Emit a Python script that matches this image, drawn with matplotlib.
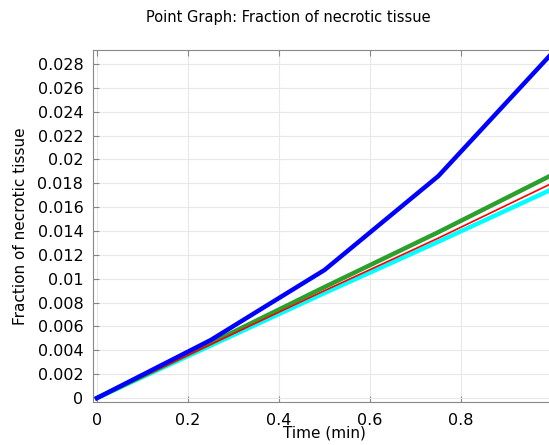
import matplotlib.pyplot as plt

# time in minutes and necrotic fraction for each curve
time = [0.0, 0.25, 0.5, 0.75, 1.0]
frac_blue = [0.0, 0.00486, 0.01073, 0.0186, 0.0289]
frac_green = [0.0, 0.0046, 0.0093, 0.0139, 0.0187]
frac_red = [0.0, 0.0045, 0.0090, 0.0134, 0.0180]
frac_cyan = [0.0, 0.0044, 0.0088, 0.0131, 0.0175]

yticks = [i * 0.002 for i in range(15)]
ylabels = ['0', '0.002', '0.004', '0.006', '0.008', '0.01', '0.012', '0.014',
           '0.016', '0.018', '0.02', '0.022', '0.024', '0.026', '0.028']
xticks = [0, 0.2, 0.4, 0.6, 0.8, 1.0]
xlabels = ['0', '0.2', '0.4', '0.6', '0.8', '1']

fig = plt.figure(figsize=(5.49, 4.45), dpi=100)
ax = fig.add_axes([0.1694, 0.0966, 0.8434, 0.791])

ax.plot(time, frac_cyan, color='#00ffff', lw=3.2, zorder=3)
ax.plot(time, frac_green, color='#2ca02c', lw=3.2, zorder=4)
ax.plot(time, frac_red, color='#ff0000', lw=1.2, zorder=5)
ax.plot(time, frac_blue, color='#0000ff', lw=3.2, zorder=6)

ax.set_xlim(-0.0088, 1.0088)
ax.set_ylim(-0.000335, 0.02917)
ax.set_xticks(xticks)
ax.set_xticklabels(xlabels)
ax.set_yticks(yticks)
ax.set_yticklabels(ylabels)
ax.tick_params(direction='in', top=True, right=True, labelsize=11.5,
               color='#888888', length=4)
ax.tick_params(axis='y', pad=7)
ax.tick_params(axis='x', pad=8)
ax.grid(True, color='#e8e8e8', lw=0.8)
ax.set_axisbelow(True)
for s in ax.spines.values():
    s.set_color('#888888')

ax.set_xlabel('Time (min)', fontsize=11, labelpad=-2)
ax.set_ylabel('Fraction of necrotic tissue', fontsize=11, labelpad=7)
fig.text(0.525, 0.96, 'Point Graph: Fraction of necrotic tissue',
         ha='center', va='center', fontsize=10.5)

fig.savefig('out.png', dpi=100)
